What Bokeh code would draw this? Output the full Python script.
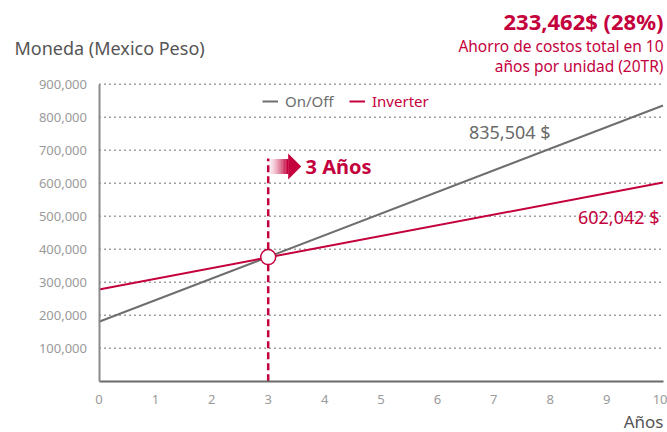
from bokeh.plotting import figure
from bokeh.models import (Label, Legend, LegendItem, FixedTicker, NumeralTickFormatter, Range1d)
from bokeh.embed import file_html
from bokeh.resources import INLINE

# ---- data ----
years = [0, 10]
onoff = [180000, 835504]
inverter = [278000, 602042]
break_even_year = 3
break_even_value = 376000
x_ticks = [0, 1, 2, 3, 4, 5, 6, 7, 8, 9, 10]
y_ticks = [100000, 200000, 300000, 400000, 500000, 600000, 700000, 800000, 900000]

RED = "#c4003d"
GRAY = "#6e6e6e"
FONT = "Noto Sans"

W, H = 667, 432
X0_PX, X10_PX = 98.5, 662.5       # pixel positions of year 0 / 10
Y0_PX, PX_PER_100K = 380.7, 33.0  # pixel of value 0, pixels per 100,000
PXX = 10.0 / (X10_PX - X0_PX)     # data units per pixel (x)
PXY = 100000.0 / PX_PER_100K      # data units per pixel (y)

def dx(px):
    return (px - X0_PX) * PXX

def dy(py):
    return (Y0_PX - py) * PXY

p = figure(width=W, height=H, output_backend="svg", toolbar_location=None,
           x_range=Range1d(dx(0), dx(W)), y_range=Range1d(dy(H), dy(0)),
           min_border=0, min_border_left=0, min_border_right=0,
           min_border_top=0, min_border_bottom=0)
p.outline_line_color = None
p.background_fill_color = "white"
p.border_fill_color = "white"

# axes placed at the data origin
p.xaxis.fixed_location = 0
p.yaxis.fixed_location = 0
p.xaxis.bounds = (0, 10)
p.yaxis.bounds = (0, 900000)
for ax in (p.xaxis[0], p.yaxis[0]):
    ax.major_tick_line_color = None
    ax.minor_tick_line_color = None
    ax.major_label_text_font = FONT
    ax.major_label_text_font_size = "13px"
    ax.major_label_text_color = "#9a9a9a"
    ax.axis_line_width = 2
p.xaxis.axis_line_color = "#6a6a6a"
p.yaxis.axis_line_color = "#8a8a8a"
p.xaxis.ticker = FixedTicker(ticks=x_ticks)
p.yaxis.ticker = FixedTicker(ticks=y_ticks)
p.yaxis.formatter = NumeralTickFormatter(format="0,0")
p.xaxis.major_label_standoff = 8
p.yaxis.major_label_standoff = 6

p.xgrid.grid_line_color = None
p.ygrid.grid_line_color = None
# dotted horizontal grid lines spanning years 0..10
p.segment(x0=[x_ticks[0]] * len(y_ticks), y0=y_ticks, x1=[x_ticks[-1]] * len(y_ticks), y1=y_ticks,
          line_color="#a0a0a0", line_dash="2 3", line_width=1.5)

# break-even dashed line
p.segment(x0=[break_even_year], y0=[0], x1=[break_even_year], y1=[dy(158)],
          line_color=RED, line_width=2.5, line_dash="7 4")

# arrow with gradient body
ay = dy(166)
body_len = 20 * PXX
head_len = 13 * PXX
n = 14
for i in range(n):
    x0 = break_even_year + body_len * i / n
    x1 = break_even_year + body_len * (i + 1) / n
    p.quad(left=[x0], right=[x1 + 0.003], bottom=[ay - 7.5 * PXY], top=[ay + 7.5 * PXY],
           fill_color=RED, fill_alpha=0.03 + 0.97 * ((i + 1) / n) ** 1.6, line_color=None)
p.patch(x=[break_even_year + body_len, break_even_year + body_len, break_even_year + body_len + head_len],
        y=[ay + 13 * PXY, ay - 13 * PXY, ay], fill_color=RED, line_color=None)

# lines
r_on = p.line(years, onoff, line_color=GRAY, line_width=2)
r_inv = p.line(years, inverter, line_color=RED, line_width=2)

# break-even marker
p.scatter([break_even_year], [break_even_value], size=15, marker="circle",
          fill_color="white", line_color=RED, line_width=1.5)

def make_legend(label, rend, color, loc):
    lg = Legend(items=[LegendItem(label=label, renderers=[rend])],
                orientation="horizontal", location=loc,
                padding=0, margin=0, spacing=0, glyph_width=16, glyph_height=20,
                label_height=20, label_standoff=7,
                label_text_font=FONT, label_text_font_size="15px",
                label_text_color=color,
                background_fill_alpha=0, border_line_alpha=0)
    p.add_layout(lg, "center")

make_legend("On/Off", r_on, GRAY, (262, H - 111))
make_legend("Inverter", r_inv, RED, (349, H - 111))

def lab(px, py, text, color, size, align="left", style="normal"):
    p.add_layout(Label(x=dx(px), y=dy(py), text=text, text_color=color, text_font=FONT,
                       text_font_size=size, text_align=align, text_baseline="middle",
                       text_font_style=style))

lab(14, 47, "Moneda (Mexico Peso)", "#555555", "18px")
lab(663, 20, "233,462$ (28%)", RED, "22px", "right", "bold")
lab(663, 45, "Ahorro de costos total en 10", RED, "15.5px", "right")
lab(663, 65, "años por unidad (20TR)", RED, "15.5px", "right")
lab(550, 131, "835,504 $", "#6a6a6a", "18px", "right")
lab(659, 216, "602,042 $", RED, "18px", "right")
lab(305, 166, "3 Años", RED, "20px", "left", "bold")
lab(663, 421, "Años", "#555555", "17px", "right")

open("out.html", "w").write(file_html(p, INLINE))
